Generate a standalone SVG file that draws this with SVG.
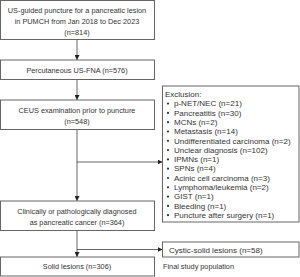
<svg xmlns="http://www.w3.org/2000/svg" width="300" height="277" viewBox="0 0 300 277">
<style>
.box{fill:#fff;stroke:#666;stroke-width:1}
.t{font-family:"Liberation Sans",Arial,sans-serif;font-size:7.3px;fill:#333}
.r{font-size:8px}
.c{text-anchor:middle}
.ln{fill:none;stroke:#555;stroke-width:0.9}
.dot{fill:#333}
</style>
<defs>
<marker id="ah" viewBox="0 0 6 6" refX="6" refY="3" markerWidth="5" markerHeight="5" markerUnits="userSpaceOnUse" orient="auto"><path d="M0,0 L6,3 L0,6 Z" fill="#222"/></marker>
</defs>
<rect width="300" height="277" fill="#fff"/>
<g id="connectors">
<line class="ln" x1="77" y1="39.5" x2="77" y2="60" marker-end="url(#ah)"/>
<line class="ln" x1="77" y1="79.5" x2="77" y2="100" marker-end="url(#ah)"/>
<line class="ln" x1="77" y1="129.5" x2="77" y2="201" marker-end="url(#ah)"/>
<line class="ln" x1="77" y1="162" x2="162.5" y2="162" marker-end="url(#ah)"/>
<line class="ln" x1="77" y1="230.5" x2="77" y2="257" marker-end="url(#ah)"/>
<line class="ln" x1="77" y1="249.5" x2="162.5" y2="249.5" marker-end="url(#ah)"/>
</g>
<g id="n1">
<rect class="box" x="0.5" y="0.5" width="154" height="39"/>
<text class="t c" x="77" y="12.5">US-guided puncture for a pancreatic lesion</text>
<text class="t c" x="77" y="23.5">in PUMCH from Jan 2018 to Dec 2023</text>
<text class="t c" x="77" y="34.5">(n=814)</text>
</g>
<g id="n2">
<rect class="box" x="0.5" y="60" width="154" height="19.5"/>
<text class="t c" x="77" y="72.5">Percutaneous US-FNA (n=576)</text>
</g>
<g id="n3">
<rect class="box" x="0.5" y="100" width="154" height="29.5"/>
<text class="t c" x="77" y="113">CEUS examination prior to puncture</text>
<text class="t c" x="77" y="124">(n=548)</text>
</g>
<g id="n4">
<rect class="box" x="0.5" y="201" width="154" height="29.5"/>
<text class="t c" x="77" y="214">Clinically or pathologically diagnosed</text>
<text class="t c" x="77" y="225">as pancreatic cancer (n=364)</text>
</g>
<g id="n5">
<rect class="box" x="0.5" y="257" width="154" height="19"/>
<text class="t c" x="77" y="269">Solid lesions (n=306)</text>
</g>
<g id="exclusion">
<rect class="box" x="162.5" y="86" width="136.5" height="136"/>
<text class="t r" x="165" y="97">Exclusion:</text>
<g class="dot">
<circle cx="168" cy="103.6" r="1.1"/><circle cx="168" cy="112.9" r="1.1"/><circle cx="168" cy="122.2" r="1.1"/>
<circle cx="168" cy="131.5" r="1.1"/><circle cx="168" cy="140.8" r="1.1"/><circle cx="168" cy="150.1" r="1.1"/>
<circle cx="168" cy="159.4" r="1.1"/><circle cx="168" cy="168.7" r="1.1"/><circle cx="168" cy="178" r="1.1"/>
<circle cx="168" cy="187.3" r="1.1"/><circle cx="168" cy="196.6" r="1.1"/><circle cx="168" cy="205.9" r="1.1"/>
<circle cx="168" cy="215.2" r="1.1"/>
</g>
<g class="t r">
<text x="174" y="106.3">p-NET/NEC (n=21)</text>
<text x="174" y="115.6">Pancreatitis (n=30)</text>
<text x="174" y="124.9">MCNs (n=2)</text>
<text x="174" y="134.2">Metastasis (n=14)</text>
<text x="174" y="143.5">Undifferentiated carcinoma (n=2)</text>
<text x="174" y="152.8">Unclear diagnosis (n=102)</text>
<text x="174" y="162.1">IPMNs (n=1)</text>
<text x="174" y="171.4">SPNs (n=4)</text>
<text x="174" y="180.7">Acinic cell carcinoma (n=3)</text>
<text x="174" y="190">Lymphoma/leukemia (n=2)</text>
<text x="174" y="199.3">GIST (n=1)</text>
<text x="174" y="208.6">Bleeding (n=1)</text>
<text x="174" y="217.9">Puncture after surgery (n=1)</text>
</g>
</g>
<g id="cystic">
<rect class="box" x="162.5" y="242" width="136.5" height="15"/>
<text class="t r" x="169" y="252.7">Cystic-solid lesions (n=58)</text>
</g>
<g id="final">
<text class="t" x="163" y="269">Final study population</text>
</g>
</svg>
